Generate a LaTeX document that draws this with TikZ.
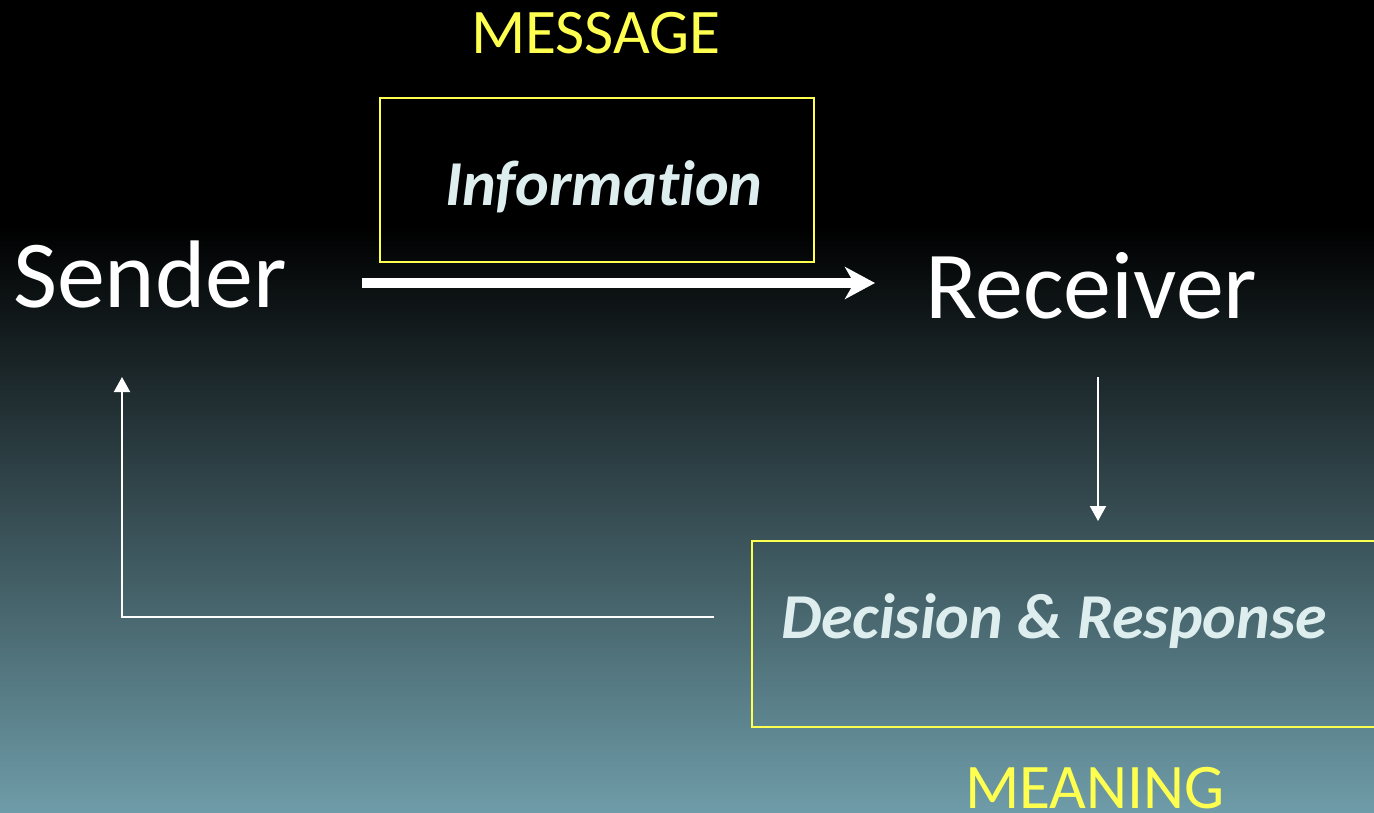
\documentclass[tikz,border=0pt]{standalone}
\usepackage{fontspec}
\setmainfont[Ligatures=NoCommon]{Carlito}
\usetikzlibrary{arrows.meta}
\definecolor{ylw}{RGB}{255,255,80}
\definecolor{pale}{RGB}{222,238,238}
\definecolor{bgbot}{RGB}{110,156,168}
\pgfdeclareverticalshading{bgshade}{100bp}{color(0bp)=(bgbot); color(25bp)=(bgbot); color(61bp)=(black); color(100bp)=(black)}
\tikzset{
  lbl/.style={anchor=base west, inner sep=0pt, outer sep=0pt},
  yellowtxt/.style={lbl, text=ylw, font=\fontsize{63.5}{70}\selectfont},
  bigtxt/.style={lbl, text=white, font=\fontsize{96}{100}\selectfont},
  boxtxt/.style={lbl, text=pale, font=\bfseries\itshape\fontsize{64}{70}\selectfont},
  ybox/.style={draw=ylw, line width=2pt, inner sep=0pt, minimum width=#1},
  thickarrow/.style={draw=white, line width=10pt, -{Stealth[length=30pt,width=32pt,inset=9pt]}},
  thinarrow/.style={draw=white, line width=2pt, -{Triangle[length=15pt,width=16pt]}},
  thinline/.style={draw=white, line width=2pt}
}
\begin{document}
\begin{tikzpicture}[x=1pt,y=-1pt]
\useasboundingbox (0,0) rectangle (1374,812);
\shade[shading=bgshade] (0,0) rectangle (1374,812);
% labels
\node[yellowtxt] (message) at (471,53) {MESSAGE};
\node[yellowtxt] (meaning) at (965,808) {MEANING};
\node[bigtxt] (sender) at (13,307) {Sender};
\node[bigtxt] (receiver) at (925,318) {Receiver};
% boxes
\node[ybox=434pt, minimum height=164pt] (infobox) at (597,180) {};
\node[boxtxt] (info) at (445,205) {Information};
\node[ybox=640pt, minimum height=186pt, anchor=north west] (decbox) at (751,540) {};
\node[boxtxt] (dec) at (781,638) {Decision \& Response};
% connectors
\coordinate (a1) at (362,283);
\coordinate (a2) at (875,283);
\draw[thickarrow] (a1) -- (a2);
\coordinate (d1) at (1098,377);
\coordinate (d2) at (1098,521);
\draw[thinarrow] (d1) -- (d2);
\coordinate (f1) at (714,617);
\coordinate (f2) at (122,617);
\coordinate (f3) at (122,377);
\draw[thinarrow] (f1) -- (f2) -- (f3);
\end{tikzpicture}
\end{document}
